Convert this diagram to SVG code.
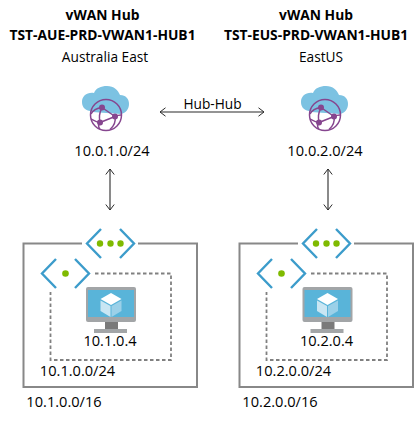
<svg xmlns="http://www.w3.org/2000/svg" width="418" height="421" viewBox="0 0 418 421">
<style>
text{font-family:"Open Sans","Noto Sans","Liberation Sans",sans-serif;font-size:13.700px;fill:#000}
.b{font-weight:700;font-size:13.800px}
.n{font-size:14.600px}
.m{text-anchor:middle}
.box{fill:none;stroke:#888;stroke-width:2}
.dash{fill:none;stroke:#808080;stroke-width:1.800;stroke-dasharray:3.500 2.500}
.br{fill:none;stroke:#3c9ccb;stroke-width:2.400}
.conn{fill:none;stroke:#2a2a2a;stroke-width:1.100;marker-start:url(#a);marker-end:url(#a)}
.globe{fill:none;stroke:#86468f;stroke-width:1.500}
</style>
<defs>
<marker id="a" viewBox="-7 -5 8 10" refX="0" refY="0" markerWidth="8" markerHeight="10" markerUnits="userSpaceOnUse" orient="auto-start-reverse"><path d="M-5.500 -4.200L0 0L-5.500 4.200" fill="none" stroke="#2a2a2a" stroke-width="1"/></marker>
<g id="hub">
<path d="M90 111C84 110 82 106 82 102C82 96 87 92 94 93C96 88 101 86 107 86C114 86 118 90 120 95C126 95 129 99 129 104C129 109 126 113 121 114L92 112Z" fill="#7cc2e2"/>
<circle cx="106" cy="115" r="15.500" fill="#fff" class="globe"/>
<path class="globe" d="M102 107.500C99 114 99 117 100 122.500M102 107.500L115 116.500M102 107.500C97 108 93 110 91 114M115 116.500L100 122.500M115 116.500C116 122 114 126 110 129.500M100 122.500C98 125 98 127 100 129M115 116.500C118 115 120 115 121 115M100 122.500C96 122 93 120 91 119"/>
<circle cx="102" cy="107.500" r="3" fill="#86468f"/><circle cx="115" cy="116.500" r="3" fill="#86468f"/><circle cx="100" cy="122.500" r="3" fill="#86468f"/>
</g>
<g id="vnet">
<path class="br" d="M101 229L87 243.500L101 258M120 229L134 243.500L120 258"/>
<circle cx="100" cy="243.500" r="3.200" fill="#7fba00"/><circle cx="110.500" cy="243.500" r="3.200" fill="#7fba00"/><circle cx="120.500" cy="243.500" r="3.200" fill="#7fba00"/>
</g>
<g id="subnet">
<path class="br" d="M56 259L42 273.500L56 288M75 259L89 273.500L75 288"/>
<circle cx="65.500" cy="273.500" r="3.300" fill="#7fba00"/>
</g>
<g id="vm">
<rect x="86" y="287" width="50" height="35" rx="2" fill="#a2a5a7"/>
<rect x="88" y="290" width="46" height="27" fill="#59b4d9"/>
<path d="M105 322H118V329H105Z" fill="#7a7a7a"/>
<rect x="94" y="329" width="33" height="4" fill="#a2a5a7"/>
<path d="M111 293L121.500 299L111 305L100.500 299Z" fill="#fff"/>
<path d="M100.500 300.500L110.500 306V317L100.500 311Z" fill="#c9e6f3"/>
<path d="M121.500 300.500L111.500 306V317L121.500 311Z" fill="#9bd0e8"/>
</g>
</defs>

<g id="connectors">
<path class="conn" d="M160 112H264"/>
<path class="conn" d="M110 169V210"/>
<path class="conn" d="M328 169V210"/>
</g>

<g id="hub-aue">
<use href="#hub"/>
<text class="b m" x="102.500" y="20">vWAN Hub</text>
<text class="b m" x="102.500" y="39.500">TST-AUE-PRD-VWAN1-HUB1</text>
<text class="m" x="105" y="62">Australia East</text>
<text class="n m" x="112" y="156">10.0.1.0/24</text>
</g>
<g id="hub-eus">
<use href="#hub" x="219"/>
<text class="b m" x="316" y="20">vWAN Hub</text>
<text class="b m" x="316" y="39.500">TST-EUS-PRD-VWAN1-HUB1</text>
<text class="m" x="321" y="62">EastUS</text>
<text class="n m" x="325" y="156">10.0.2.0/24</text>
</g>
<g id="hub-link-label"><text class="m" x="212.500" y="109">Hub-Hub</text></g>

<g id="vnet-aue">
<path class="box" d="M82 243.500H23.500V387H197V243.500H138"/>
<path class="dash" d="M95 273.500H171V360H50.500V292"/>
<use href="#vnet"/><use href="#subnet"/><use href="#vm"/>
<text class="n m" x="110" y="346">10.1.0.4</text>
<text class="n m" x="77.500" y="376">10.1.0.0/24</text>
<text class="n m" x="64" y="407">10.1.0.0/16</text>
</g>
<g id="vnet-eus">
<path class="box" d="M298 243.500H239.500V387H413V243.500H354"/>
<path class="dash" d="M311 273.500H387V360H266.500V292"/>
<use href="#vnet" x="216"/><use href="#subnet" x="216"/><use href="#vm" x="216.500"/>
<text class="n m" x="326.500" y="346">10.2.0.4</text>
<text class="n m" x="293.500" y="376">10.2.0.0/24</text>
<text class="n m" x="280" y="407">10.2.0.0/16</text>
</g>
</svg>
